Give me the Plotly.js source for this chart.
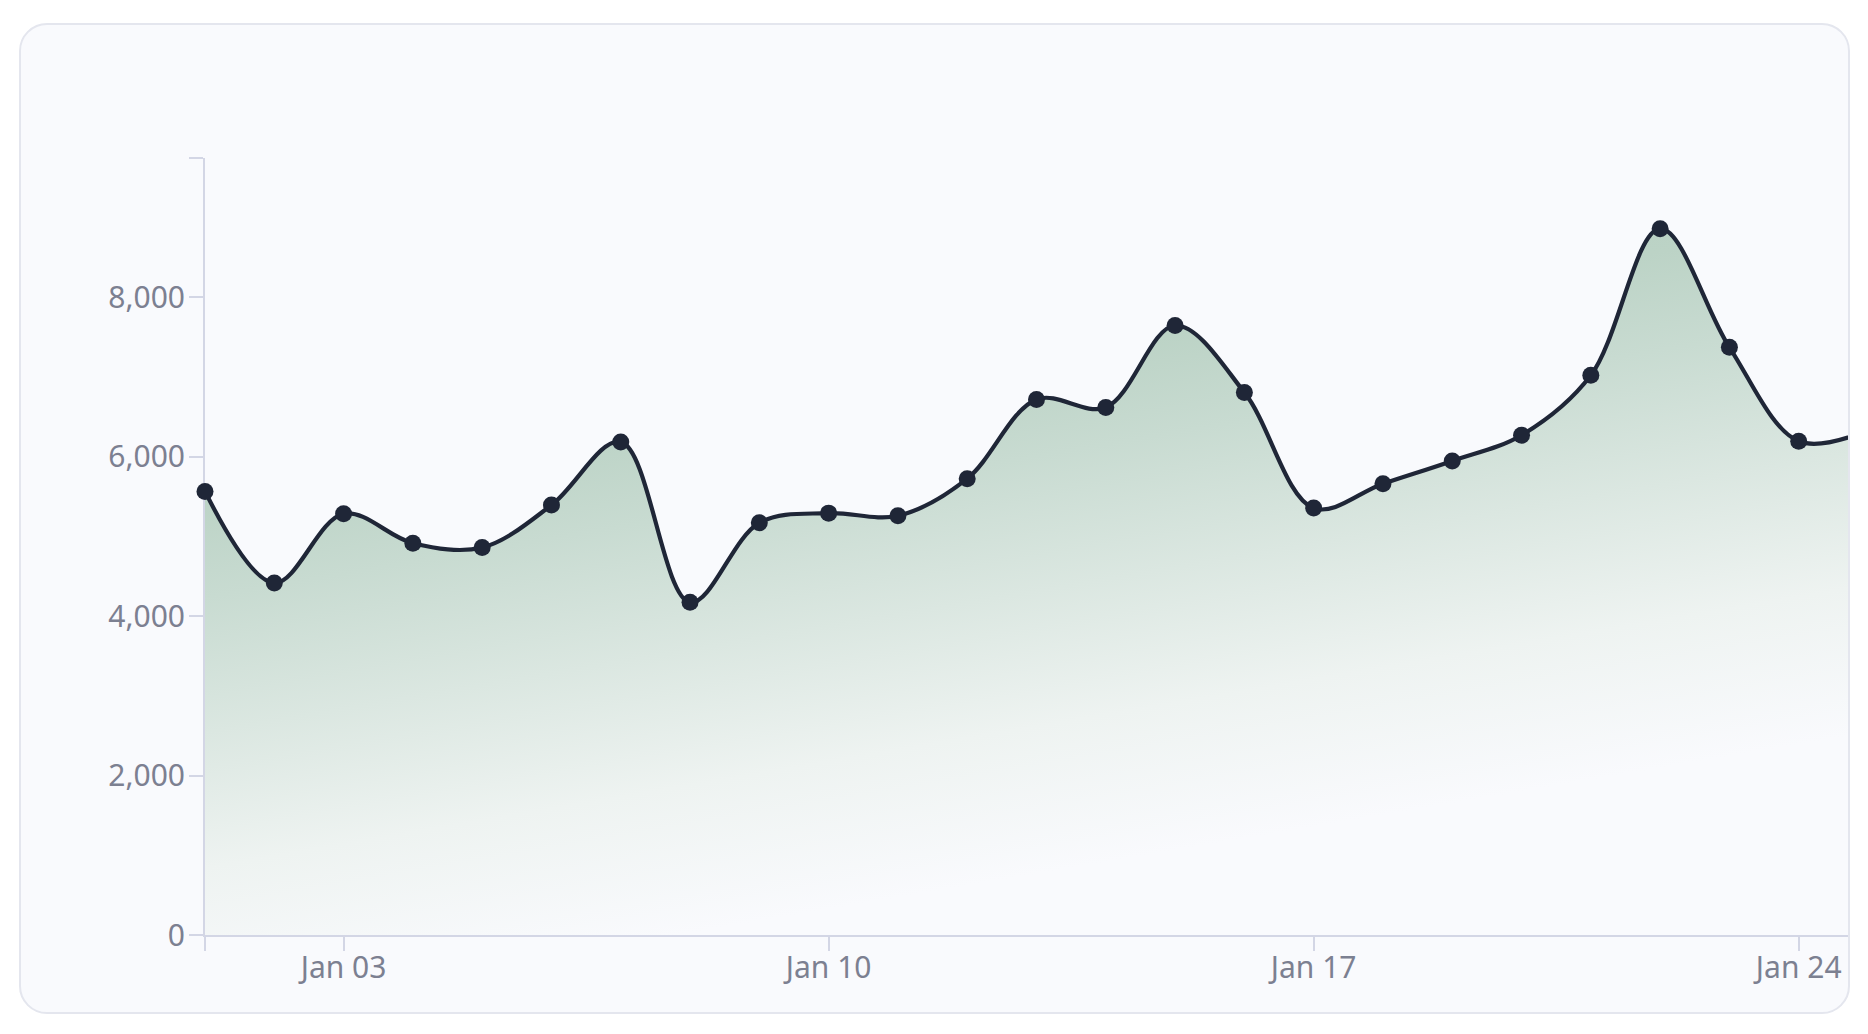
<!DOCTYPE html>
<html>
<head>
<meta charset="utf-8">
<script src="https://cdn.plot.ly/plotly-3.0.1.min.js"></script>
<style>
  html, body { margin: 0; padding: 0; background: #ffffff; width: 1868px; height: 1034px; overflow: hidden; }
  #card {
    position: absolute; left: 19px; top: 23px; width: 1831px; height: 991px;
    box-sizing: border-box; border: 2px solid #e4e6ee; border-radius: 28px;
    background: #f9fafd; overflow: hidden;
  }
  #chart { position: absolute; left: -21px; top: -25px; width: 1868px; height: 1034px; }
</style>
</head>
<body>
<div id="card"><div id="chart"></div></div>
<script>
// ---- data ----
const dates = ['2021-01-01','2021-01-02','2021-01-03','2021-01-04','2021-01-05','2021-01-06','2021-01-07',
  '2021-01-08','2021-01-09','2021-01-10','2021-01-11','2021-01-12','2021-01-13','2021-01-14',
  '2021-01-15','2021-01-16','2021-01-17','2021-01-18','2021-01-19','2021-01-20','2021-01-21',
  '2021-01-22','2021-01-23','2021-01-24','2021-01-25'];
const values = [5563, 4415, 5283, 4914, 4860, 5392, 6184, 4172, 5170, 5291, 5258, 5723, 6717, 6616,
  7644, 6805, 5354, 5660, 5946, 6268, 7019, 8859, 7371, 6193, 6330];
const xTickVals = ['2021-01-01','2021-01-03','2021-01-10','2021-01-17','2021-01-24'];
const xTickText = ['', 'Jan 03', 'Jan 10', 'Jan 17', 'Jan 24'];
const yTop = Math.max(...values) * 1.1;
const yTickVals = [0, 2000, 4000, 6000, 8000, yTop];
const yTickText = ['0', '2,000', '4,000', '6,000', '8,000', ''];

const axisColor = '#d3d6e5';
const labelFont = { family: 'Noto Sans, Roboto, sans-serif', size: 30, color: '#7c8091' };

const trace = {
  type: 'scatter', mode: 'lines+markers',
  x: dates, y: values,
  line: { shape: 'spline', smoothing: 1, color: '#1f2637', width: 4.2 },
  marker: { size: 17, color: '#1f2637' },
  fill: 'tozeroy', fillcolor: '#c6d9cf',
  cliponaxis: false, hoverinfo: 'skip'
};

const layout = {
  width: 1868, height: 1034,
  margin: { l: 205, r: 0, t: 158, b: 99, pad: 0 },
  paper_bgcolor: 'rgba(0,0,0,0)', plot_bgcolor: 'rgba(0,0,0,0)',
  showlegend: false,
  xaxis: {
    type: 'date', range: [dates[0], dates[dates.length - 1]],
    tickmode: 'array', tickvals: xTickVals, ticktext: xTickText,
    showgrid: false, zeroline: false,
    showline: true, linecolor: axisColor, linewidth: 2,
    ticks: 'outside', ticklen: 14, tickwidth: 2, tickcolor: axisColor,
    tickfont: labelFont, ticklabelstandoff: -9, fixedrange: true, layer: 'below traces'
  },
  yaxis: {
    range: [0, yTop],
    tickmode: 'array', tickvals: yTickVals, ticktext: yTickText,
    showgrid: false, zeroline: false,
    showline: true, linecolor: axisColor, linewidth: 2,
    ticks: 'outside', ticklen: 14, tickwidth: 2, tickcolor: axisColor,
    tickfont: labelFont, ticklabelstandoff: -2, fixedrange: true, layer: 'below traces'
  }
};

Plotly.newPlot('chart', [trace], layout, { staticPlot: true, displayModeBar: false }).then(gd => {
  const ns = 'http://www.w3.org/2000/svg';
  const svg = gd.querySelector('svg.main-svg');
  let defs = svg.querySelector('defs');
  if (!defs) { defs = document.createElementNS(ns, 'defs'); svg.insertBefore(defs, svg.firstChild); }
  const grad = document.createElementNS(ns, 'linearGradient');
  grad.setAttribute('id', 'areaGradDiag');
  grad.setAttribute('x1', '0'); grad.setAttribute('y1', '0');
  grad.setAttribute('x2', '0.4'); grad.setAttribute('y2', '1');
  [[0, '#afcabc'], [0.33, '#bcd3c6'], [0.45, '#c8dbd1'], [0.78, '#eef3f1'], [0.96, '#f9fafd']].forEach(([o, c]) => {
    const s = document.createElementNS(ns, 'stop');
    s.setAttribute('offset', o); s.setAttribute('stop-color', c);
    grad.appendChild(s);
  });
  defs.appendChild(grad);
  gd.querySelectorAll('path.js-fill').forEach(p => { p.style.fill = 'url(#areaGradDiag)'; });
});
</script>
</body>
</html>
